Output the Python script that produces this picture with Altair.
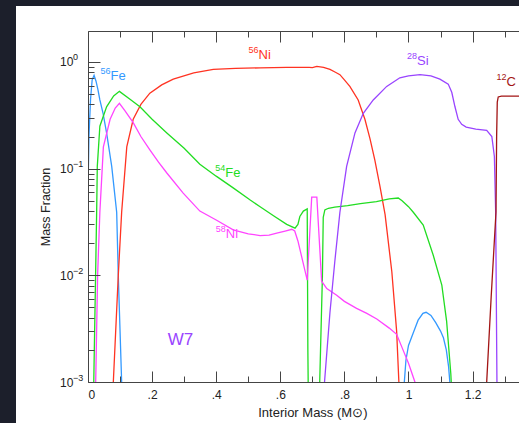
import altair as alt
import pandas as pd

# ---------------- data ----------------
fe56a_m = [0.0, 0.003, 0.008, 0.013, 0.019, 0.025, 0.031, 0.037, 0.047, 0.058, 0.074, 0.0895, 0.0945, 0.105, 0.108]
fe56a_v = [0.06, 0.2, 0.45, 0.68, 0.75, 0.66, 0.55, 0.44, 0.33, 0.216, 0.105, 0.039, 0.01, 0.001, 0.0006]
fe56b_m = [0.984, 0.987, 0.992, 1.0, 1.015, 1.03, 1.045, 1.055, 1.07, 1.085, 1.1, 1.109, 1.118, 1.125, 1.129, 1.131]
fe56b_v = [0.0007, 0.001, 0.0016, 0.0022, 0.0029, 0.0038, 0.0044, 0.0045, 0.0042, 0.0036, 0.003, 0.0026, 0.002, 0.0014, 0.001, 0.0007]

ni56_m = [0.076, 0.079, 0.0945, 0.105, 0.121, 0.141, 0.165, 0.193, 0.23, 0.266, 0.33, 0.391, 0.46, 0.537,
          0.62, 0.69, 0.70, 0.714, 0.735, 0.755, 0.772, 0.786, 0.80, 0.817, 0.843, 0.864, 0.88, 0.895,
          0.911, 0.927, 0.948, 0.963, 0.970, 0.973]
ni56_v = [0.0007, 0.001, 0.01, 0.039, 0.16, 0.29, 0.40, 0.51, 0.61, 0.69, 0.79, 0.85, 0.87, 0.88,
          0.89, 0.89, 0.885, 0.91, 0.89, 0.85, 0.80, 0.76, 0.68, 0.59, 0.44, 0.29, 0.19, 0.12,
          0.068, 0.037, 0.0108, 0.003, 0.001, 0.0007]

fe54a_m = [0.015, 0.018, 0.027, 0.029, 0.037, 0.058, 0.08, 0.098, 0.13, 0.162, 0.2, 0.246, 0.3, 0.349,
           0.4, 0.453, 0.505, 0.537, 0.58, 0.62, 0.646, 0.655, 0.661, 0.672, 0.684, 0.686, 0.6875]
fe54a_v = [0.0007, 0.001, 0.039, 0.105, 0.25, 0.38, 0.48, 0.53, 0.45, 0.38, 0.29, 0.216, 0.155, 0.11,
           0.085, 0.066, 0.051, 0.044, 0.036, 0.030, 0.0277, 0.030, 0.0356, 0.040, 0.042, 0.002, 0.0007]
fe54b_m = [0.7215, 0.723, 0.7315, 0.734, 0.739, 0.75, 0.77, 0.81, 0.85, 0.9, 0.94, 0.968, 0.98, 1.0,
           1.015, 1.046, 1.077, 1.104, 1.119, 1.132, 1.136]
fe54b_v = [0.0007, 0.001, 0.01, 0.035, 0.041, 0.0425, 0.0435, 0.045, 0.047, 0.049, 0.052, 0.053, 0.05, 0.044,
           0.039, 0.0296, 0.0155, 0.0081, 0.0037, 0.0012, 0.0007]

ni58_m = [0.022, 0.024, 0.03, 0.037, 0.048, 0.069, 0.085, 0.098, 0.115, 0.141, 0.165, 0.193, 0.22, 0.246,
          0.297, 0.349, 0.40, 0.453, 0.5, 0.537, 0.565, 0.589, 0.615, 0.636, 0.645, 0.655, 0.684, 0.698,
          0.714, 0.729, 0.745, 0.776, 0.80, 0.838, 0.87, 0.901, 0.94, 0.963, 0.98, 1.0, 1.02, 1.025]
ni58_v = [0.0007, 0.001, 0.01, 0.039, 0.16, 0.29, 0.37, 0.41, 0.35, 0.27, 0.20, 0.15, 0.115, 0.091,
          0.059, 0.040, 0.033, 0.0267, 0.0245, 0.0236, 0.0238, 0.0249, 0.026, 0.027, 0.026, 0.021, 0.009, 0.054,
          0.054, 0.0088, 0.0075, 0.0065, 0.0057, 0.0049, 0.0044, 0.0039, 0.0032, 0.0028, 0.0021, 0.0015, 0.001, 0.0007]

si28_m = [0.736, 0.738, 0.755, 0.77, 0.786, 0.807, 0.833, 0.859, 0.89, 0.932, 0.973, 1.0, 1.036, 1.07,
          1.098, 1.124, 1.135, 1.145, 1.155, 1.166, 1.18, 1.21, 1.244, 1.26, 1.268, 1.272, 1.276, 1.278]
si28_v = [0.0007, 0.001, 0.0045, 0.0134, 0.039, 0.105, 0.216, 0.33, 0.44, 0.59, 0.71, 0.74, 0.76, 0.74,
          0.69, 0.62, 0.52, 0.38, 0.29, 0.26, 0.245, 0.235, 0.228, 0.20, 0.13, 0.039, 0.001, 0.0007]

c12_m = [1.243, 1.244, 1.258, 1.273, 1.275, 1.277, 1.28, 1.29, 1.345]
c12_v = [0.0007, 0.001, 0.0063, 0.039, 0.2, 0.42, 0.47, 0.478, 0.478]

C_BLUE, C_RED, C_GREEN = "#3399ff", "#ff3322", "#22dd22"
C_MAG, C_PURP, C_DRED = "#ff44ff", "#9944ff", "#a31515"

series = [
    ("fe56a", C_BLUE, fe56a_m, fe56a_v), ("fe56b", C_BLUE, fe56b_m, fe56b_v),
    ("ni56", C_RED, ni56_m, ni56_v),
    ("fe54a", C_GREEN, fe54a_m, fe54a_v), ("fe54b", C_GREEN, fe54b_m, fe54b_v),
    ("ni58", C_MAG, ni58_m, ni58_v), ("si28", C_PURP, si28_m, si28_v),
    ("c12", C_DRED, c12_m, c12_v),
]

lab_sup = ["56", "56", "28", "12", "54", "58"]
lab_elem = ["Fe", "Ni", "Si", "C", "Fe", "Ni"]
lab_mass = [0.0702, 0.532, 1.0265, 1.3058, 0.4284, 0.43]
lab_frac = [0.731, 1.151, 1.011, 0.642, 0.0918, 0.0243]
lab_color = [C_BLUE, C_RED, C_PURP, C_DRED, C_GREEN, C_MAG]

model_name = ["W7"]
model_mass = [0.2886]
model_frac = [0.00249]

x_major = [0, 0.2, 0.4, 0.6, 0.8, 1.0, 1.2]
x_minor = [0.1, 0.3, 0.5, 0.7, 0.9, 1.1, 1.3]
y_major = [0.001, 0.01, 0.1, 1]
y_minor = [k * d for d in (0.001, 0.01, 0.1) for k in range(2, 10)]

# ---------------- tables ----------------
rows = []
for name, color, ms, vs in series:
    for i, (m, v) in enumerate(zip(ms, vs)):
        rows.append(dict(seg=name, color=color, mass=m, frac=v, i=i))
df = pd.DataFrame(rows)
labels = pd.DataFrame(dict(sup=lab_sup, elem=lab_elem, mass=lab_mass, frac=lab_frac, color=lab_color))
model = pd.DataFrame(dict(name=model_name, mass=model_mass, frac=model_frac))

W, H = 431, 351
FONT = "Liberation Sans"
AX = "#444444"
xs = alt.Scale(domain=[0, 1.3448], nice=False, zero=False)
ys = alt.Scale(type="log", domain=[0.001, 1.95], nice=False)

bg = alt.Chart(alt.Data(values=[{}])).mark_rect(color="white", clip=False).encode(
    x=alt.value(-72), x2=alt.value(W + 10), y=alt.value(-25), y2=alt.value(H + 50))

def tick_axis(orient, values, size, offset, domain=False):
    return alt.Axis(orient=orient, values=values, tickSize=size, offset=offset, labels=False,
                    domain=domain, domainColor=AX, tickColor=AX, tickWidth=1, title=None, grid=False,
                    zindex=2)

lines = alt.Chart(df).mark_line(clip=True, strokeWidth=1.3).encode(
    x=alt.X("mass:Q", scale=xs, axis=alt.Axis(
        orient="bottom", values=x_major, ticks=False, tickSize=0, domain=True, domainColor=AX,
        labelExpr="datum.value == 0 ? '0' : (datum.value < 1 ? replace(format(datum.value, '.1f'), '0.', '.') : format(datum.value, '~g'))",
        labelBaseline="middle", labelPadding=12.5, labelFontSize=12, labelFont=FONT, labelColor="#222",
        title="Interior Mass (M\u2299)", titleFont=FONT, titleFontSize=13, titleFontWeight="normal",
        titleColor="#222", titleX=224.35, titleY=30, titleBaseline="middle", titleAlign="center",
        grid=False, zindex=2)),
    y=alt.Y("frac:Q", scale=ys, axis=alt.Axis(
        orient="left", values=y_major, ticks=False, tickSize=0, domain=True, domainColor=AX,
        labelExpr="'10'", labelAlign="left", labelPadding=28.5, labelFontSize=12, labelFont=FONT,
        labelColor="#222", title="Mass Fraction", titleFont=FONT, titleFontSize=12.5,
        titleFontWeight="normal", titleColor="#222", titleX=-42.5, titleY=H / 2, titleAngle=270,
        titleAlign="center", titleBaseline="middle", grid=False, zindex=2)),
    color=alt.Color("color:N", scale=None),
    detail="seg:N",
    order="i:Q",
)

base = alt.Chart(df).mark_line(strokeOpacity=0)

ax2 = base.encode(
    x=alt.X("mass:Q", scale=xs, axis=tick_axis("top", x_major, 11, -H)),
    y=alt.Y("frac:Q", scale=ys, axis=alt.Axis(
        orient="left", values=y_major, ticks=False, tickSize=0, domain=False,
        labelExpr="datum.value >= 1 ? '0' : '\u2212' + format(round(-log(datum.value) / LN10), 'd')",
        labelAlign="left", labelPadding=15.5, labelFontSize=9, labelFont=FONT, labelColor="#222",
        labelOffset=-5, title=None, grid=False, zindex=2)),
    detail="seg:N",
)
ax3 = base.encode(
    x=alt.X("mass:Q", scale=xs, axis=tick_axis("top", x_minor, 6, -H)),
    y=alt.Y("frac:Q", scale=ys, axis=tick_axis("right", y_major, 12, -W)),
    detail="seg:N",
)
ax4 = base.encode(
    x=alt.X("mass:Q", scale=xs, axis=tick_axis("bottom", x_major, 11, -H, domain=True)),
    y=alt.Y("frac:Q", scale=ys, axis=tick_axis("right", y_minor, 6, -W)),
    detail="seg:N",
)
ax5 = base.encode(
    x=alt.X("mass:Q", scale=xs, axis=tick_axis("bottom", x_minor, 6, -H)),
    y=alt.Y("frac:Q", scale=ys, axis=None),
    detail="seg:N",
)

sup = alt.Chart(labels).mark_text(align="right", baseline="middle", dy=-5, fontSize=9, font=FONT).encode(
    x=alt.X("mass:Q", scale=xs, axis=None), y=alt.Y("frac:Q", scale=ys, axis=None),
    text="sup:N", color=alt.Color("color:N", scale=None))
elem = alt.Chart(labels).mark_text(align="left", baseline="middle", fontSize=13, font=FONT).encode(
    x=alt.X("mass:Q", scale=xs, axis=None), y=alt.Y("frac:Q", scale=ys, axis=None),
    text="elem:N", color=alt.Color("color:N", scale=None))
w7 = alt.Chart(model).mark_text(align="center", baseline="middle", fontSize=17, font=FONT, color=C_PURP).encode(
    x=alt.X("mass:Q", scale=xs, axis=None), y=alt.Y("frac:Q", scale=ys, axis=None), text="name:N")

chart = alt.layer(bg, lines, ax2, ax3, ax4, ax5, sup, elem, w7).resolve_axis(
    x="independent", y="independent"
).properties(
    width=W, height=H,
    autosize=alt.AutoSizeParams(type="none"),
    padding={"left": 88, "top": 31, "right": 0, "bottom": 41},
    background="#1c1f2b",
).configure_view(stroke=None)

chart.save("out.html", embed_options={"renderer": "svg", "actions": False})
